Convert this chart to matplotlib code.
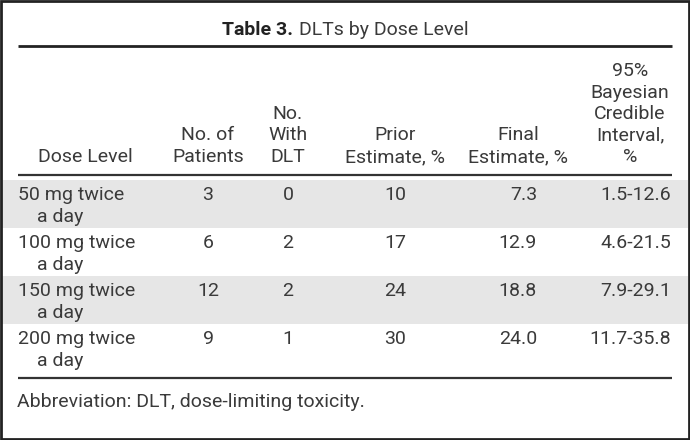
import matplotlib
matplotlib.use("Agg")
import matplotlib.pyplot as plt
from matplotlib.patches import Rectangle

title_bold = "Table 3."
title_rest = "DLTs by Dose Level"
headers = [
    ["Dose Level"],
    ["No. of", "Patients"],
    ["No.", "With", "DLT"],
    ["Prior", "Estimate, %"],
    ["Final", "Estimate, %"],
    ["95%", "Bayesian", "Credible", "Interval,", "%"],
]
dose_levels = ["50 mg twice", "100 mg twice", "150 mg twice", "200 mg twice"]
n_patients = ["3", "6", "12", "9"]
n_dlt = ["0", "2", "2", "1"]
prior_est = ["10", "17", "24", "30"]
final_est = ["7.3", "12.9", "18.8", "24.0"]
cred_int = ["1.5-12.6", "4.6-21.5", "7.9-29.1", "11.7-35.8"]
footnote = "Abbreviation: DLT, dose-limiting toxicity."

W, H = 690, 440
FONT = ["Roboto", "DejaVu Sans"]
TXT = "#3a3a3a"
FS = 14

fig = plt.figure(figsize=(W / 100, H / 100), dpi=100)
ax = fig.add_axes([0, 0, 1, 1])
ax.set_xlim(0, W)
ax.set_ylim(H, 0)
ax.axis("off")

def put(x, y, s, ha="center", **kw):
    kw.setdefault("fontsize", FS)
    kw.setdefault("color", TXT)
    ax.text(x, y, s, ha=ha, va="center", family=FONT, **kw)

# frame
ax.add_patch(Rectangle((1.2, 1.2), W - 2.4, H - 2.4, fill=False,
                       edgecolor="#222222", linewidth=2.0))

# title
t = ax.text(222, 30, title_bold, ha="left", va="center", family=FONT,
            fontsize=14, fontweight="bold", color="#222222")
fig.canvas.draw()
bb = t.get_window_extent()
x_end = ax.transData.inverted().transform((bb.x1, bb.y0))[0]
put(x_end + 6, 30, title_rest, ha="left", fontsize=14)

# rules
ax.plot([18, 672], [46, 46], color="#222222", lw=2.0, solid_capstyle="butt")
ax.plot([18, 672], [175.5, 175.5], color="#333333", lw=1.6, solid_capstyle="butt")
ax.plot([18, 672], [378, 378], color="#333333", lw=1.6, solid_capstyle="butt")

# header
head_x = [85, 208, 288, 395, 518, 630]
for hx, lines in zip(head_x, headers):
    n = len(lines)
    for i, s in enumerate(lines):
        put(hx, 157 - 21.5 * (n - 1 - i), s)

# body
row_top = 180
row_h = 48
for i in range(len(dose_levels)):
    top = row_top + i * row_h
    if i % 2 == 0:
        ax.add_patch(Rectangle((2, top), W - 4, row_h, facecolor="#e6e6e6",
                               edgecolor="none", zorder=0))
    y1 = top + 15
    put(18, y1, dose_levels[i], ha="left")
    put(37, y1 + 22, "a day", ha="left")
    put(208, y1, n_patients[i])
    put(288, y1, n_dlt[i])
    put(395, y1, prior_est[i])
    put(537, y1, final_est[i], ha="right")
    put(671, y1, cred_int[i], ha="right")

put(17, 402, footnote, ha="left")

fig.savefig("out.png", dpi=100)
